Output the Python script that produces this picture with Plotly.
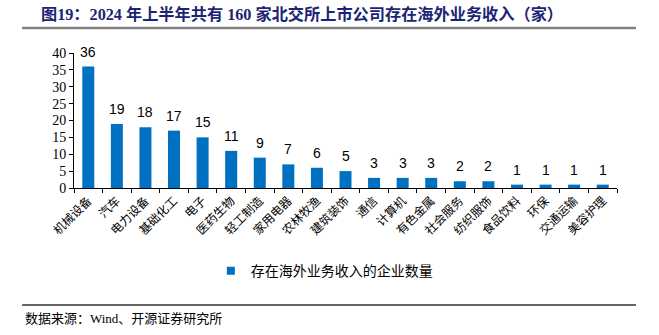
import plotly.graph_objects as go

categories = ["机械设备", "汽车", "电力设备", "基础化工", "电子", "医药生物", "轻工制造", "家用电器",
              "农林牧渔", "建筑装饰", "通信", "计算机", "有色金属", "社会服务", "纺织服饰", "食品饮料",
              "环保", "交通运输", "美容护理"]
values = [36, 19, 18, 17, 15, 11, 9, 7, 6, 5, 3, 3, 3, 2, 2, 1, 1, 1, 1]
series_name = "存在海外业务收入的企业数量"
title_text = "图19：2024 年上半年共有 160 家北交所上市公司存在海外业务收入（家）"
source_text = "数据来源：Wind、开源证券研究所"
y_ticks = [0, 5, 10, 15, 20, 25, 30, 35, 40]

CJK = "Noto Sans CJK SC"
SERIF = "Liberation Serif, " + CJK
BLUE = "#0070C0"

fig = go.Figure()
fig.add_trace(go.Bar(
    x=categories, y=values, name=series_name, showlegend=False,
    marker=dict(color=BLUE, line=dict(width=0)),
))
# legend entry (small square marker like the reference)
fig.add_trace(go.Scatter(
    x=[categories[0]], y=[None], mode="markers", name=series_name,
    marker=dict(symbol="square", size=8, color=BLUE), showlegend=True,
))

annotations = [
    dict(x=c, y=v, xref="x", yref="y", text=str(v), showarrow=False,
         yanchor="bottom", yshift=5,
         font=dict(family="Liberation Sans", size=14, color="#000000"))
    for c, v in zip(categories, values)
]
annotations += [
    dict(text="<b>" + title_text + "</b>", xref="paper", yref="paper", align="left",
         x=-0.0644, xanchor="left", y=1.2815, yanchor="middle", showarrow=False,
         font=dict(family=SERIF, size=16.2, color="#1C2473")),
    dict(text=source_text, xref="paper", yref="paper", align="left",
         x=-0.0938, xanchor="left", y=-0.963, yanchor="middle", showarrow=False,
         font=dict(family=SERIF, size=13, color="#000000")),
]

fig.update_layout(
    width=659, height=335,
    margin=dict(l=74, r=42, t=53, b=147),
    paper_bgcolor="white", plot_bgcolor="white",
    bargap=0.58,
    showlegend=True,
    legend=dict(orientation="h", x=0.252, xanchor="left", y=-0.615, yanchor="middle",
                font=dict(family=CJK, size=14, color="#000000"),
                itemwidth=30),
    xaxis=dict(
        type="category", range=[-0.5, len(categories) - 0.5],
        tickangle=-45, showline=True, linecolor="#000000", linewidth=1,
        ticks="outside", tickson="boundaries", ticklen=4, tickcolor="#000000",
        tickfont=dict(family=CJK, size=12, color="#000000"), showgrid=False,
    ),
    yaxis=dict(
        range=[0, 40], tickvals=y_ticks, showline=True, linecolor="#000000", linewidth=1,
        ticks="outside", ticklen=4, tickcolor="#000000", showgrid=False, zeroline=False,
        tickfont=dict(family=SERIF, size=14, color="#000000"),
    ),
    annotations=annotations,
)
fig.add_shape(type="line", xref="paper", yref="paper", x0=-0.0956, x1=1.035,
              y0=1.185, y1=1.185, line=dict(color="#808080", width=2.5))
fig.add_shape(type="line", xref="paper", yref="paper", x0=-0.0956, x1=1.035,
              y0=-0.867, y1=-0.867, line=dict(color="#333333", width=1.5))

fig.write_html("out.html")
